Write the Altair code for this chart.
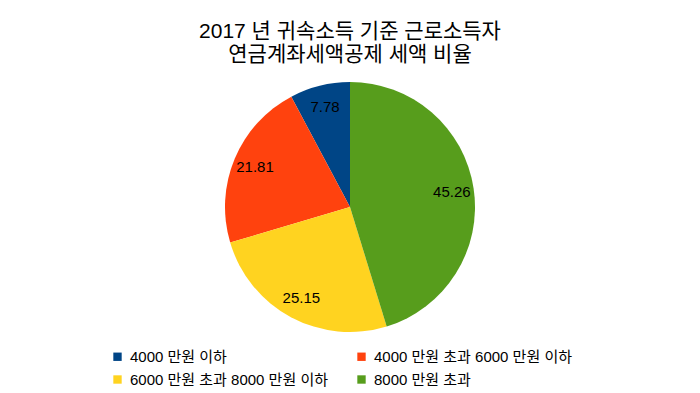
import altair as alt
import pandas as pd

categories = ["4000 만원 이하", "4000 만원 초과  6000 만원 이하", "6000 만원 초과  8000 만원 이하", "8000 만원 초과"]
values = [7.78, 21.81, 25.15, 45.26]
colors = ["#004586", "#ff420e", "#ffd320", "#579d1c"]
title_lines = ["2017 년 귀속소득 기준 근로소득자", "연금계좌세액공제 세액 비율"]

df = pd.DataFrame({
    "cat": categories,
    "value": values,
    "ord": list(range(len(categories)))[::-1],
    "label": [f"{v:.2f}" for v in values],
})

FONT = "Liberation Sans, Noto Sans CJK KR, sans-serif"

base = alt.Chart(df).encode(
    theta=alt.Theta("value:Q", stack=True),
    order=alt.Order("ord:Q", sort="ascending"),
)

pie = base.mark_arc(outerRadius=125, stroke=None).encode(
    color=alt.Color(
        "cat:N",
        scale=alt.Scale(domain=categories, range=colors),
        sort=categories,
        legend=alt.Legend(
            title=None,
            orient="none",
            direction="horizontal",
            legendX=102,
            legendY=279,
            columns=2,
            columnPadding=21,
            rowPadding=7,
            symbolType="square",
            symbolSize=70,
            symbolStrokeWidth=0,
            labelFontSize=15,
            labelFont=FONT,
            labelColor="#000000",
            labelLimit=400,
            symbolOffset=0,
            labelOffset=5,
        ),
    )
)

text = base.mark_text(radius=103, fontSize=15, font=FONT, color="#000000").encode(
    text="label:N"
)

chart = (
    (pie + text)
    .properties(
        width=684,
        height=274,
        padding={"left": 0, "right": 0, "top": 62, "bottom": 49},
        autosize=alt.AutoSizeParams(type="none"),
        title=alt.TitleParams(
            text=title_lines,
            fontSize=21,
            font=FONT,
            fontWeight="normal",
            color="#000000",
            anchor="middle",
            lineHeight=23,
            offset=5,
        ),
    )
    .configure_view(stroke=None)
)

chart.save("out.html", embed_options={"renderer": "svg", "actions": False})
